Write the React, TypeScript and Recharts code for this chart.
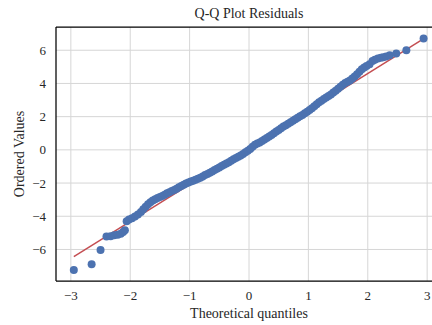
import React from 'react';
import { ScatterChart, Scatter, XAxis, YAxis, CartesianGrid, ReferenceLine, Label } from 'recharts';

// theoretical quantiles (x) and ordered residuals (y)
const qX = [
  -2.95, -2.65, -2.5, -2.4, -2.33, -2.27, -2.21, -2.16, -2.12, -2.09,
  -2.06, -2.02, -1.97, -1.92, -1.87, -1.82, -1.78, -1.74, -1.7, -1.66,
  -1.62, -1.58, -1.54, -1.5, -1.46, -1.42, -1.38, -1.34, -1.3, -1.26,
  -1.22, -1.18, -1.14, -1.1, -1.06, -1.02, -0.98, -0.94, -0.9, -0.86,
  -0.82, -0.78, -0.74, -0.7, -0.66, -0.62, -0.58, -0.54, -0.5, -0.46,
  -0.42, -0.38, -0.34, -0.3, -0.26, -0.22, -0.18, -0.14, -0.1, -0.06,
  -0.02, 0.02, 0.06, 0.1, 0.14, 0.18, 0.22, 0.26, 0.3, 0.34,
  0.38, 0.42, 0.46, 0.5, 0.54, 0.58, 0.62, 0.66, 0.7, 0.74,
  0.78, 0.82, 0.86, 0.9, 0.94, 0.98, 1.02, 1.06, 1.1, 1.14,
  1.18, 1.22, 1.26, 1.3, 1.34, 1.38, 1.42, 1.46, 1.5, 1.54,
  1.58, 1.62, 1.66, 1.7, 1.74, 1.78, 1.82, 1.86, 1.9, 1.94,
  1.98, 2.03, 2.08, 2.12, 2.17, 2.22, 2.26, 2.31, 2.37, 2.48,
  2.65, 2.94,
];
const qY = [
  -7.23, -6.89, -6.04, -5.22, -5.2, -5.15, -5.12, -5.05, -4.95, -4.84,
  -4.3, -4.2, -4.12, -4.02, -3.9, -3.75, -3.58, -3.42, -3.28, -3.15,
  -3.05, -2.97, -2.9, -2.84, -2.78, -2.7, -2.62, -2.55, -2.48, -2.42,
  -2.34, -2.26, -2.18, -2.1, -2.03, -1.97, -1.91, -1.86, -1.8, -1.74,
  -1.68, -1.6, -1.52, -1.45, -1.38, -1.3, -1.22, -1.14, -1.06, -0.98,
  -0.9, -0.82, -0.74, -0.66, -0.57, -0.49, -0.42, -0.34, -0.25, -0.15,
  -0.06, 0.05, 0.18, 0.3, 0.38, 0.45, 0.53, 0.62, 0.72, 0.8,
  0.9, 1.0, 1.1, 1.2, 1.3, 1.4, 1.48, 1.57, 1.66, 1.75,
  1.84, 1.93, 2.02, 2.1, 2.2, 2.3, 2.4, 2.5, 2.62, 2.74,
  2.86, 2.96, 3.06, 3.15, 3.24, 3.34, 3.45, 3.56, 3.68, 3.8,
  3.92, 4.02, 4.1, 4.18, 4.3, 4.42, 4.56, 4.7, 4.85, 4.96,
  5.05, 5.15, 5.35, 5.42, 5.5, 5.55, 5.58, 5.62, 5.7, 5.81,
  6.0, 6.7,
];

// fitted reference line end points
const fitX = [-2.95, 2.95];
const fitY = [-6.43, 6.71];

const xTicks = [-3, -2, -1, 0, 1, 2, 3];
const yTicks = [-6, -4, -2, 0, 2, 4, 6];

const points = qX.map((x, i) => ({ x, y: qY[i] }));
const FONT = '"Liberation Serif", "Times New Roman", serif';
const tickStyle = { fill: '#262626', fontSize: 13, fontFamily: FONT };
const fmt = (v: number) => String(v).replace('-', '\u2212');

function Dot(props: any) {
  const { cx, cy } = props;
  return <circle cx={cx} cy={cy} r={4} fill="#4C72B0" />;
}

export default function App() {
  return (
    <div style={{ width: 432, height: 325, overflow: 'hidden', background: '#fff', position: 'relative' }}>
      <style>{'body{margin:0}'}</style>
      <ScatterChart width={460} height={325} margin={{ top: 27, right: 18, bottom: 14, left: 16 }}>
        <CartesianGrid stroke="#d6d6d6" strokeWidth={1} horizontalValues={yTicks} verticalValues={xTicks} />
        <XAxis type="number" dataKey="x" domain={[-3.25, 3.25]} ticks={xTicks} allowDataOverflow height={30}
          axisLine={{ stroke: '#000', strokeWidth: 1.25 }} tickLine={false} tickSize={0} tickMargin={10}
          tick={tickStyle} tickFormatter={fmt}>
          <Label value="Theoretical quantiles" position="bottom" offset={-3} style={{ fill: '#262626', fontSize: 14, fontFamily: FONT }} />
        </XAxis>
        <YAxis type="number" dataKey="y" domain={[-7.9, 7.4]} ticks={yTicks} allowDataOverflow width={40}
          axisLine={{ stroke: '#000', strokeWidth: 1.25 }} tickLine={false} tickSize={0} tickMargin={10}
          tick={tickStyle} tickFormatter={fmt}>
          <Label value="Ordered Values" angle={-90} position="insideLeft" offset={3} style={{ fill: '#262626', fontSize: 14, fontFamily: FONT, textAnchor: 'middle' }} />
        </YAxis>
        <ReferenceLine y={7.4} stroke="#000" strokeWidth={1.25} />
        <Scatter data={points} shape={<Dot />} isAnimationActive={false} />
        <ReferenceLine segment={[{ x: fitX[0], y: fitY[0] }, { x: fitX[1], y: fitY[1] }]} stroke="#C44E52" strokeWidth={1.5} />
      </ScatterChart>
      <div style={{ position: 'absolute', top: 6, left: 56, width: 386, textAlign: 'center', fontFamily: FONT, fontSize: 14, color: '#262626' }}>
        Q-Q Plot Residuals
      </div>
    </div>
  );
}
